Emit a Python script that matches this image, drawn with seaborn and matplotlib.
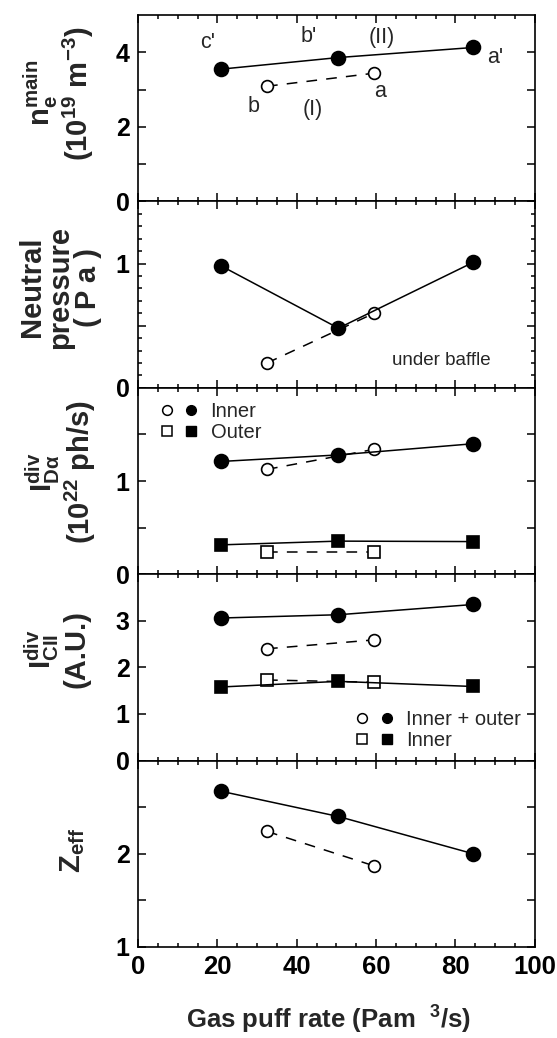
import matplotlib
matplotlib.use('Agg')
import matplotlib.pyplot as plt
import seaborn as sns
from matplotlib.lines import Line2D
from matplotlib.legend_handler import HandlerTuple
from matplotlib.ticker import MultipleLocator

# gas puff rate (Pam^3/s)
x_filled = [21, 50.5, 84.5]   # case (II): c', b', a'
x_open = [32.5, 59.5]         # case (I): b, a

ne_filled = [3.55, 3.86, 4.13]
ne_open = [3.09, 3.44]

p_filled = [0.98, 0.48, 1.01]
p_open = [0.20, 0.60]

da_inner_filled = [1.21, 1.28, 1.40]
da_inner_open = [1.125, 1.34]
da_outer_filled = [0.315, 0.355, 0.35]
da_outer_open = [0.24, 0.24]

cii_total_filled = [3.06, 3.13, 3.35]
cii_total_open = [2.40, 2.59]
cii_inner_filled = [1.58, 1.70, 1.59]
cii_inner_open = [1.73, 1.68]

zeff_filled = [2.67, 2.40, 2.00]
zeff_open = [2.24, 1.87]

sns.set_style('ticks')
plt.rcParams['font.family'] = ['Liberation Sans', 'DejaVu Sans']
plt.rcParams['mathtext.fontset'] = 'custom'
plt.rcParams['mathtext.rm'] = 'Liberation Sans'
plt.rcParams['mathtext.bf'] = 'Liberation Sans:bold'
plt.rcParams['mathtext.it'] = 'Liberation Sans:italic'

DASH = (0, (7, 6))


def series(ax, xs, ys, filled, marker='o'):
    if marker == 'o':
        ms = 10 if filled else 8.5
    else:
        ms = 9 if filled else 8
    sns.lineplot(x=xs, y=ys, ax=ax, color='black', lw=1.1,
                 linestyle='-' if filled else DASH,
                 marker=marker, ms=ms,
                 mfc='black' if filled else 'white', mec='black', mew=1.2,
                 sort=False, estimator=None, legend=False,
                 zorder=4 if filled else 3)


def pair_legend(ax, labels, **kw):
    handles = []
    for m in ['o', 's']:
        h_open = Line2D([], [], ls='none', marker=m, ms=7, mfc='white', mec='black', mew=1.1)
        h_fill = Line2D([], [], ls='none', marker=m, ms=7, mfc='black', mec='black')
        handles.append((h_open, h_fill))
    ax.legend(handles, labels, handler_map={tuple: HandlerTuple(ndivide=None, pad=0.5)},
              frameon=False, fontsize=14.5, handlelength=1.9, handletextpad=0.6,
              labelspacing=0.1, borderaxespad=0.3, **kw)


fig, axes = plt.subplots(5, 1, figsize=(5.57, 10.38), dpi=100, sharex=True)
plt.subplots_adjust(left=0.248, right=0.96, top=0.9855, bottom=0.0877, hspace=0)
ax1, ax2, ax3, ax4, ax5 = axes

# (a) main plasma density
series(ax1, x_open, ne_open, False)
series(ax1, x_filled, ne_filled, True)
ax1.set_ylim(0, 5)
ax1.set_yticks([0, 1, 2, 3, 4])
ax1.set_yticklabels(['0', '', '2', '', '4'])
for txt, tx, ty in [("c'", 17.6, 4.27), ("b'", 43, 4.42), ("(II)", 61.5, 4.40), ("a'", 90, 3.86),
                    ("b", 29, 2.55), ("(I)", 44, 2.47), ("a", 61, 2.95)]:
    ax1.text(tx, ty, txt, fontsize=15.5, ha='center', va='center')
ax1.set_ylabel(r"$\mathbf{n_e^{main}}$" + "\n" + r"$\mathbf{(10^{19}\ m^{-3})}$",
               fontsize=21, linespacing=1.05)

# (b) neutral pressure
series(ax2, x_open, p_open, False)
series(ax2, x_filled, p_filled, True)
ax2.set_ylim(0, 1.5)
ax2.set_yticks([0, 0.5, 1, 1.5])
ax2.set_yticklabels(['0', '', '1', ''])
ax2.yaxis.set_minor_locator(MultipleLocator(0.1))
ax2.text(76.5, 0.22, 'under baffle', fontsize=13.5, ha='center', va='center')
ax2.set_ylabel("Neutral\npressure\n( P a )", fontsize=21, fontweight='bold', linespacing=1.0)

# (c) D-alpha intensity
series(ax3, x_open, da_inner_open, False)
series(ax3, x_filled, da_inner_filled, True)
series(ax3, x_open, da_outer_open, False, marker='s')
series(ax3, x_filled, da_outer_filled, True, marker='s')
ax3.set_ylim(0, 2)
ax3.set_yticks([0, 0.5, 1, 1.5])
ax3.set_yticklabels(['0', '', '1', ''])
pair_legend(ax3, ['Inner', 'Outer'], loc='upper left', bbox_to_anchor=(0.02, 1.0))
ax3.set_ylabel(r"$\mathbf{I_{D\alpha}^{div}}$" + "\n" + r"$\mathbf{(10^{22}\ ph/s)}$",
               fontsize=21, linespacing=1.05)

# (d) CII intensity
series(ax4, x_open, cii_total_open, False)
series(ax4, x_filled, cii_total_filled, True)
series(ax4, x_open, cii_inner_open, False, marker='s')
series(ax4, x_filled, cii_inner_filled, True, marker='s')
ax4.set_ylim(0, 4)
ax4.set_yticks([0, 1, 2, 3])
pair_legend(ax4, ['Inner + outer', 'Inner'], loc='lower right', bbox_to_anchor=(1.0, -0.02))
ax4.set_ylabel(r"$\mathbf{I_{CII}^{div}}$" + "\n(A.U.)", fontsize=21, fontweight='bold',
               linespacing=1.05)

# (e) Zeff
series(ax5, x_open, zeff_open, False)
series(ax5, x_filled, zeff_filled, True)
ax5.set_ylim(1, 3)
ax5.set_yticks([1, 1.5, 2, 2.5])
ax5.set_yticklabels(['1', '', '2', ''])
ax5.set_ylabel(r"$\mathbf{Z_{eff}}$", fontsize=21)

label_pos = [(-0.105, 0.58), (-0.09, 0.54), (-0.10, 0.55), (-0.12, 0.60), (-0.13, 0.52)]
for ax, (lx, ly) in zip(axes, label_pos):
    ax.set_xlim(0, 100)
    ax.xaxis.set_major_locator(MultipleLocator(20))
    ax.xaxis.set_minor_locator(MultipleLocator(5))
    ax.tick_params(which='both', direction='in', top=True, right=True, width=1.1, colors='black')
    ax.tick_params(which='major', length=5.5, labelsize=18, pad=6)
    ax.tick_params(which='minor', length=3)
    for lab in ax.get_yticklabels() + ax.get_xticklabels():
        lab.set_fontweight('bold')
    for sp in ax.spines.values():
        sp.set_linewidth(1.2)
        sp.set_color('black')
    ax.yaxis.set_label_coords(lx, ly)

for lab in ax5.get_xticklabels():
    lab.set_fontsize(18.5)
ax5.set_xlabel(r"Gas puff rate (Pam  $^{\mathbf{3}}$/s)", fontsize=18.5, fontweight='bold')
ax5.xaxis.set_label_coords(0.479, -0.305)

fig.savefig('out.png', dpi=100)
